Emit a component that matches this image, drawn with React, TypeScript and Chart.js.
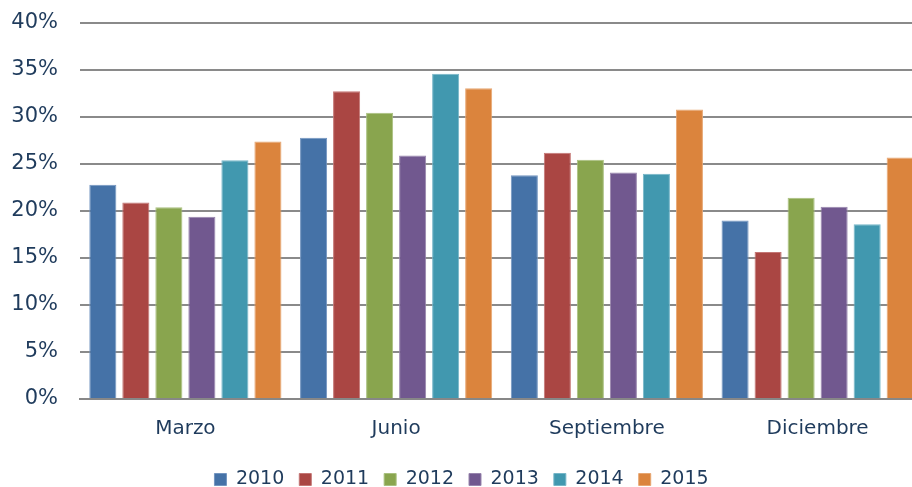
import React, { useEffect, useRef } from "react";
import { Chart, registerables } from "chart.js";

Chart.register(...registerables);

const categories = ["Marzo", "Junio", "Septiembre", "Diciembre"];
const seriesNames = ["2010", "2011", "2012", "2013", "2014", "2015"];
const s2010 = [22.8, 27.8, 23.8, 19.0];
const s2011 = [20.9, 32.75, 26.2, 15.65];
const s2012 = [20.4, 30.45, 25.45, 21.4];
const s2013 = [19.4, 25.9, 24.1, 20.45];
const s2014 = [25.4, 34.6, 23.95, 18.6];
const s2015 = [27.4, 33.05, 30.8, 25.7];
const seriesValues = [s2010, s2011, s2012, s2013, s2014, s2015];
const colors = ["#4572A7", "#AA4643", "#89A54E", "#71588F", "#4198AF", "#DB843D"];
const borderColors = ["#7395c0", "#c47674", "#a9c07f", "#9885ad", "#76b6c8", "#e7a672"];
const yTicks = [0, 5, 10, 15, 20, 25, 30, 35, 40];

const textColor = "#1f3b5c";
const font = "'DejaVu Sans', Verdana, sans-serif";

export default function App() {
  const ref = useRef<HTMLCanvasElement | null>(null);
  useEffect(() => {
    if (!ref.current) return;
    const chart = new Chart(ref.current, {
      type: "bar",
      data: {
        labels: categories,
        datasets: seriesNames.map((n, i) => ({
          label: n,
          data: seriesValues[i],
          backgroundColor: colors[i],
          borderColor: borderColors[i],
          borderWidth: 1,
          categoryPercentage: 0.94,
          barPercentage: 0.82,
        })),
      },
      options: {
        animation: false,
        responsive: true,
        maintainAspectRatio: false,
        layout: { padding: { left: 0, top: 23, right: 0, bottom: -12 } },
        plugins: {
          tooltip: { enabled: false },
          legend: {
            position: "bottom",
            labels: {
              color: textColor,
              font: { family: font, size: 19 },
              boxWidth: 12,
              boxHeight: 12,
              padding: 15,
            },
          },
        },
        scales: {
          x: {
            grid: { display: false, drawTicks: false },
            border: { display: true, color: "#878787", width: 2 },
            ticks: { color: textColor, font: { family: font, size: 20 }, padding: 18 },
            afterFit: (axis: any) => {
              axis.height = axis.height - 4;
            },
          },
          y: {
            min: 0,
            max: 40,
            afterBuildTicks: (axis: any) => {
              axis.ticks = yTicks.map((v) => ({ value: v }));
            },
            afterFit: (axis: any) => {
              axis.width = 80;
              axis.paddingTop = 12;
              axis.paddingBottom = 12;
            },
            grid: { color: "#8a8a8a", lineWidth: 2, drawTicks: false },
            border: { display: false },
            ticks: {
              color: textColor,
              font: { family: font, size: 21 },
              padding: 22,
              callback: (v: any) => v + "%",
            },
          },
        },
      },
    });
    return () => chart.destroy();
  }, []);
  return (
    <div style={{ position: "fixed", left: 0, top: 0, width: 912, height: 487, overflow: "hidden", background: "#fff" }}>
      <div style={{ position: "absolute", left: 0, top: 0, width: 923, height: 487 }}>
        <canvas ref={ref} />
      </div>
    </div>
  );
}
